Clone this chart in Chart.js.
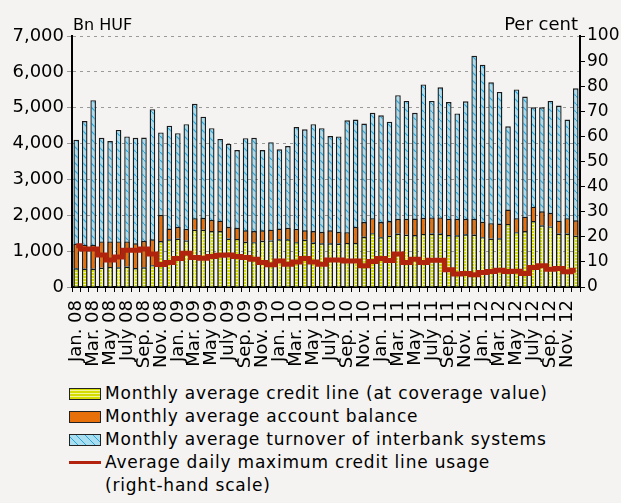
<!DOCTYPE html>
<html>
<head>
<meta charset="utf-8">
<script src="https://cdn.jsdelivr.net/npm/chart.js@4.4.1/dist/chart.umd.min.js"></script>
<style>
    html, body { margin: 0; padding: 0; background: #f4f3f1; }
    #wrap { position: relative; width: 621px; height: 503px; background: #f4f3f1; font-family: 'DejaVu Sans', sans-serif; }
    #legend { position: absolute; left: 69px; top: 382px; font-size: 17px; letter-spacing: 0.8px; color: #000; line-height: 23px; }
    #legend .row { display: flex; align-items: flex-start; }
    #legend .sw { width: 30px; height: 10px; margin-top: 6px; margin-right: 4px; border: 1px solid #222; flex: none; }
    #legend .ln { width: 32px; height: 3px; margin-top: 10px; margin-right: 4px; background: #b2220c; flex: none; }
</style>
</head>
<body>
<div id="wrap">
    <canvas id="chart" width="621" height="372"></canvas>
    <div id="legend">
        <div class="row"><span class="sw" style="background: repeating-linear-gradient(0deg, #d4dc00 0 2px, #f3f39a 2px 3px);"></span>Monthly average credit line (at coverage value)</div>
        <div class="row"><span class="sw" style="background: #e8700a;"></span>Monthly average account balance</div>
        <div class="row"><span class="sw" style="background: repeating-linear-gradient(45deg, #a8def0 0 5px, #2aa6dc 5px 6px);"></span>Monthly average turnover of interbank systems</div>
        <div class="row"><span class="ln"></span><span>Average daily maximum credit line usage<br>(right-hand scale)</span></div>
    </div>
</div>
<script>
// Months Jan. 08 - Dec. 12
const monthNames = ['Jan.', 'Feb.', 'Mar.', 'Apr.', 'May', 'June', 'July', 'Aug.', 'Sep.', 'Oct.', 'Nov.', 'Dec.'];
const years = ['08', '09', '10', '11', '12'];
const months = [];
years.forEach(y => monthNames.forEach(m => months.push(m + ' ' + y)));

// Bn HUF
const creditLine = [
    520, 510, 510, 540, 560, 550, 570, 530, 550, 610, 1280, 1330,
    1350, 1300, 1600, 1600, 1560, 1560, 1350, 1340, 1260, 1250, 1290, 1300,
    1330, 1330, 1250, 1320, 1240, 1220, 1220, 1210, 1230, 1230, 1400, 1500,
    1390, 1430, 1490, 1460, 1450, 1480, 1490, 1490, 1450, 1440, 1470, 1460,
    1390, 1350, 1360, 1760, 1530, 1560, 1840, 1720, 1690, 1490, 1490, 1430
];
const accountBalance = [
    680, 670, 670, 730, 710, 720, 700, 690, 740, 720, 730, 300,
    330, 320, 320, 330, 310, 290, 330, 310, 320, 310, 290, 300,
    300, 320, 370, 260, 320, 320, 360, 330, 300, 450, 410, 420,
    420, 410, 410, 440, 460, 450, 450, 450, 450, 460, 430, 440,
    430, 430, 410, 400, 390, 400, 400, 390, 380, 360, 430, 430
];
const turnover = [
    4110, 4630, 5210, 4160, 4070, 4380, 4200, 4160, 4170, 4960, 4310, 4500,
    4290, 4540, 5110, 4750, 4430, 4130, 3990, 3820, 4150, 4160, 3820, 4040,
    3840, 3930, 4460, 4400, 4540, 4430, 4210, 4200, 4650, 4670, 4560, 4860,
    4790, 4610, 5350, 5190, 4860, 5650, 5190, 5570, 5160, 4840, 5180, 6450,
    6200, 5710, 5440, 4480, 5510, 5310, 5010, 5010, 5190, 5060, 4670, 5540
];
// Per cent
const usage = [
    16.4, 15.1, 15.1, 12.7, 10.8, 12.0, 14.6, 14.6, 15.1, 13.1, 9.0, 9.8,
    11.4, 13.4, 11.8, 11.5, 12.2, 12.6, 12.7, 12.2, 11.8, 11.1, 9.8, 8.9,
    10.4, 9.1, 10.0, 11.4, 10.0, 9.1, 10.8, 10.8, 10.4, 10.4, 8.5, 10.2,
    11.4, 10.6, 13.1, 9.8, 11.1, 9.8, 10.7, 10.7, 6.9, 5.2, 5.4, 4.9,
    5.8, 6.2, 6.7, 6.2, 6.3, 5.4, 7.8, 8.5, 7.1, 7.4, 6.1, 6.7
];
const leftTicks = [0, 1000, 2000, 3000, 4000, 5000, 6000, 7000];
const rightTicks = [0, 10, 20, 30, 40, 50, 60, 70, 80, 90, 100];

/**
 * Small repeating canvas used as a bar fill
 */
function makePattern(w, h, draw) {
    const c = document.createElement('canvas');
    c.width = w;
    c.height = h;
    const g = c.getContext('2d');
    draw(g, w, h);
    return g.createPattern(c, 'repeat');
}

const yellowFill = makePattern(4, 3, (g, w, h) => {
    g.fillStyle = '#d4dc00';
    g.fillRect(0, 0, w, h);
    g.fillStyle = '#f3f39a';
    g.fillRect(0, 2, w, 1);
    g.fillRect(2, 0, 1, h);
});
const blueFill = makePattern(8, 8, (g, w, h) => {
    g.fillStyle = '#a8def0';
    g.fillRect(0, 0, w, h);
    g.strokeStyle = '#2aa6dc';
    g.lineWidth = 1.2;
    g.beginPath();
    g.moveTo(0, 0);
    g.lineTo(w, h);
    g.stroke();
});

// "Bn HUF" and "Per cent" above the axes
const axisTitles = {
    id: 'axisTitles',
    afterDraw(chart) {
        const {ctx, chartArea} = chart;
        ctx.save();
        ctx.fillStyle = '#000';
        ctx.textBaseline = 'alphabetic';
        ctx.font = '16px "DejaVu Sans"';
        ctx.textAlign = 'left';
        ctx.fillText('Bn HUF', chartArea.left + 1, 30);
        ctx.font = '18px "DejaVu Sans"';
        ctx.textAlign = 'right';
        ctx.fillText('Per cent', chartArea.right - 2, 30);
        ctx.restore();
    }
};

const barStyle = {
    borderColor: '#1a1a1a',
    borderWidth: 1.4,
    grouped: false,
    barPercentage: 0.66,
    categoryPercentage: 1,
    yAxisID: 'y'
};

new Chart(document.getElementById('chart'), {
    type: 'bar',
    data: {
        labels: months,
        datasets: [
            {
                type: 'line',
                label: 'Average daily maximum credit line usage (right-hand scale)',
                data: usage,
                yAxisID: 'y1',
                borderColor: '#b0240e',
                borderWidth: 5,
                stepped: 'middle',
                pointRadius: 0,
                order: 0
            },
            Object.assign({
                label: 'Monthly average credit line (at coverage value)',
                data: creditLine,
                backgroundColor: yellowFill,
                stack: 'front',
                order: 1
            }, barStyle),
            Object.assign({
                label: 'Monthly average account balance',
                data: accountBalance,
                backgroundColor: '#e8700a',
                stack: 'front',
                order: 1
            }, barStyle),
            Object.assign({
                label: 'Monthly average turnover of interbank systems',
                data: turnover,
                backgroundColor: blueFill,
                stack: 'back',
                order: 2
            }, barStyle)
        ]
    },
    options: {
        responsive: false,
        animation: false,
        layout: { padding: { top: 36 } },
        plugins: {
            legend: { display: false },
            tooltip: { enabled: false }
        },
        scales: {
            x: {
                afterFit: (scale) => { scale.height = 85; },
                grid: { drawOnChartArea: false, color: '#000', tickLength: 5, lineWidth: 1 },
                border: { color: '#000', width: 2 },
                ticks: {
                    autoSkip: false,
                    maxRotation: 90,
                    minRotation: 90,
                    padding: 8,
                    color: '#000',
                    font: { family: 'DejaVu Sans', size: 18 },
                    callback: (value, index) => index % 2 === 0 ? months[index] : ''
                }
            },
            y: {
                position: 'left',
                min: leftTicks[0],
                max: leftTicks[leftTicks.length - 1],
                afterFit: (scale) => { scale.width = 72; },
                afterBuildTicks: (scale) => { scale.ticks = leftTicks.map(v => ({ value: v })); },
                grid: { color: '#9a9a9a', tickLength: 5, lineWidth: 1 },
                border: { color: '#000', width: 2, dash: [3, 4] },
                ticks: {
                    padding: 3,
                    color: '#000',
                    font: { family: 'DejaVu Sans', size: 18 },
                    callback: (value) => value.toLocaleString('en-US')
                }
            },
            y1: {
                position: 'right',
                min: rightTicks[0],
                max: rightTicks[rightTicks.length - 1],
                afterFit: (scale) => { scale.width = 41; },
                afterBuildTicks: (scale) => { scale.ticks = rightTicks.map(v => ({ value: v })); },
                grid: { drawOnChartArea: false, color: '#000', tickLength: 5 },
                border: { color: '#000', width: 2 },
                ticks: {
                    padding: 2,
                    color: '#000',
                    font: { family: 'DejaVu Sans', size: 17 }
                }
            }
        }
    },
    plugins: [axisTitles]
});
</script>
</body>
</html>
